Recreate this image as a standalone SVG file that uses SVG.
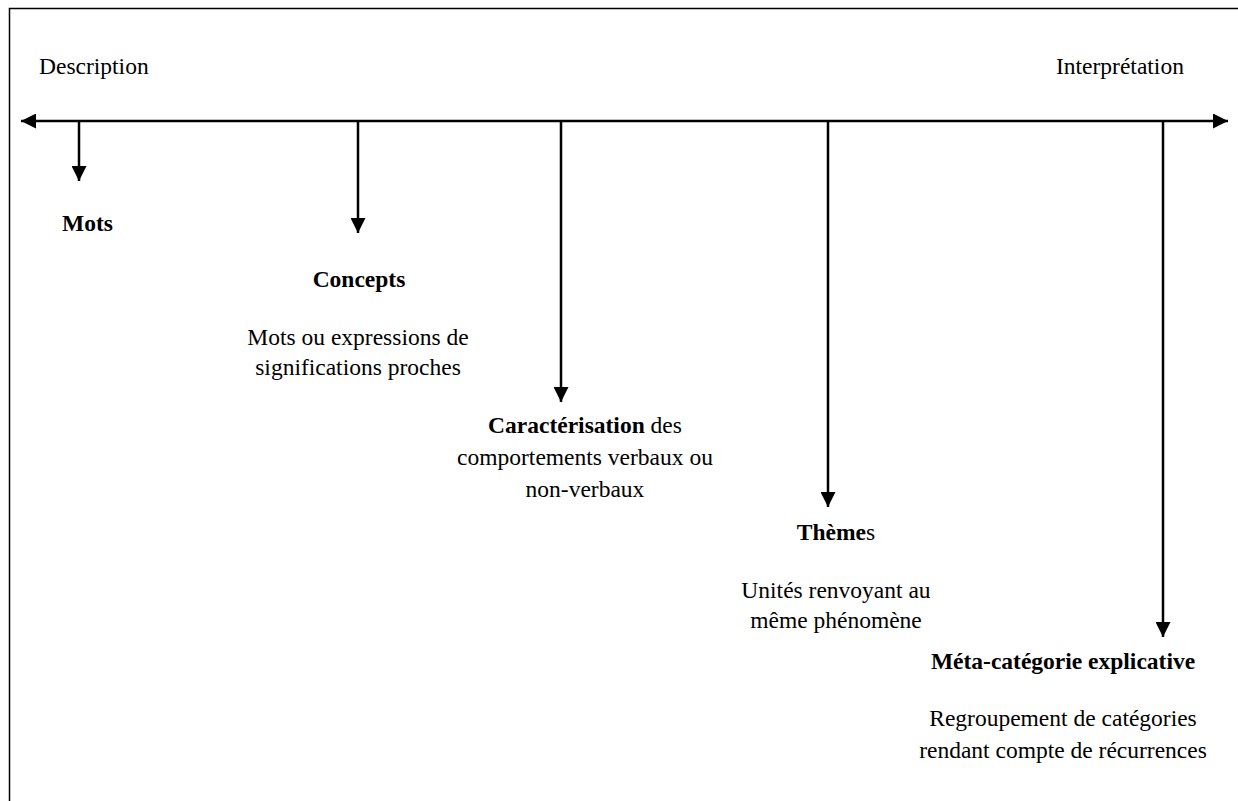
<svg xmlns="http://www.w3.org/2000/svg" width="1238" height="801" viewBox="0 0 1238 801">
  <style>
    text { font-family: "Liberation Serif", "Times New Roman", serif; font-size: 23.5px; fill: #000; }
    .b { font-weight: bold; }
    .c { text-anchor: middle; }
    .conn { stroke: #000; stroke-width: 2.5; fill: none; }
  </style>
  <defs>
    <marker id="ah" viewBox="0 0 15 15" refX="15" refY="7.5" markerWidth="15" markerHeight="15" markerUnits="userSpaceOnUse" orient="auto-start-reverse">
      <path d="M0,0 L15,7.5 L0,15 z" fill="#000"/>
    </marker>
  </defs>
  <rect x="0" y="0" width="1238" height="801" fill="#fff"/>
  <rect id="frame" x="9.5" y="8.5" width="1400" height="1000" fill="none" stroke="#000" stroke-width="1.5"/>

  <g id="connectors">
    <line class="conn" x1="21" y1="121" x2="1228" y2="121" marker-start="url(#ah)" marker-end="url(#ah)"/>
    <line class="conn" x1="79" y1="121" x2="79" y2="181" marker-end="url(#ah)"/>
    <line class="conn" x1="358" y1="121" x2="358" y2="233" marker-end="url(#ah)"/>
    <line class="conn" x1="561" y1="121" x2="561" y2="402" marker-end="url(#ah)"/>
    <line class="conn" x1="828" y1="121" x2="828" y2="507" marker-end="url(#ah)"/>
    <line class="conn" x1="1163" y1="121" x2="1163" y2="637" marker-end="url(#ah)"/>
  </g>

  <g id="description"><text x="39" y="74">Description</text></g>
  <g id="interpretation"><text x="1056" y="74">Interprétation</text></g>

  <g id="mots"><text class="b" x="62" y="231">Mots</text></g>

  <g id="concepts">
    <text class="b c" x="359" y="287">Concepts</text>
    <text class="c" x="358" y="345">Mots ou expressions de</text>
    <text class="c" x="358" y="375">significations proches</text>
  </g>

  <g id="caracterisation">
    <text class="c" x="585" y="433"><tspan class="b">Caractérisation</tspan> des</text>
    <text class="c" x="585" y="465">comportements verbaux ou</text>
    <text class="c" x="585" y="497">non-verbaux</text>
  </g>

  <g id="themes">
    <text class="c" x="836" y="540"><tspan class="b">Thème</tspan>s</text>
    <text class="c" x="836" y="598">Unités renvoyant au</text>
    <text class="c" x="836" y="628">même phénomène</text>
  </g>

  <g id="meta">
    <text class="b c" x="1063" y="669">Méta-catégorie explicative</text>
    <text class="c" x="1063" y="726">Regroupement de catégories</text>
    <text class="c" x="1063" y="758">rendant compte de récurrences</text>
  </g>
</svg>
